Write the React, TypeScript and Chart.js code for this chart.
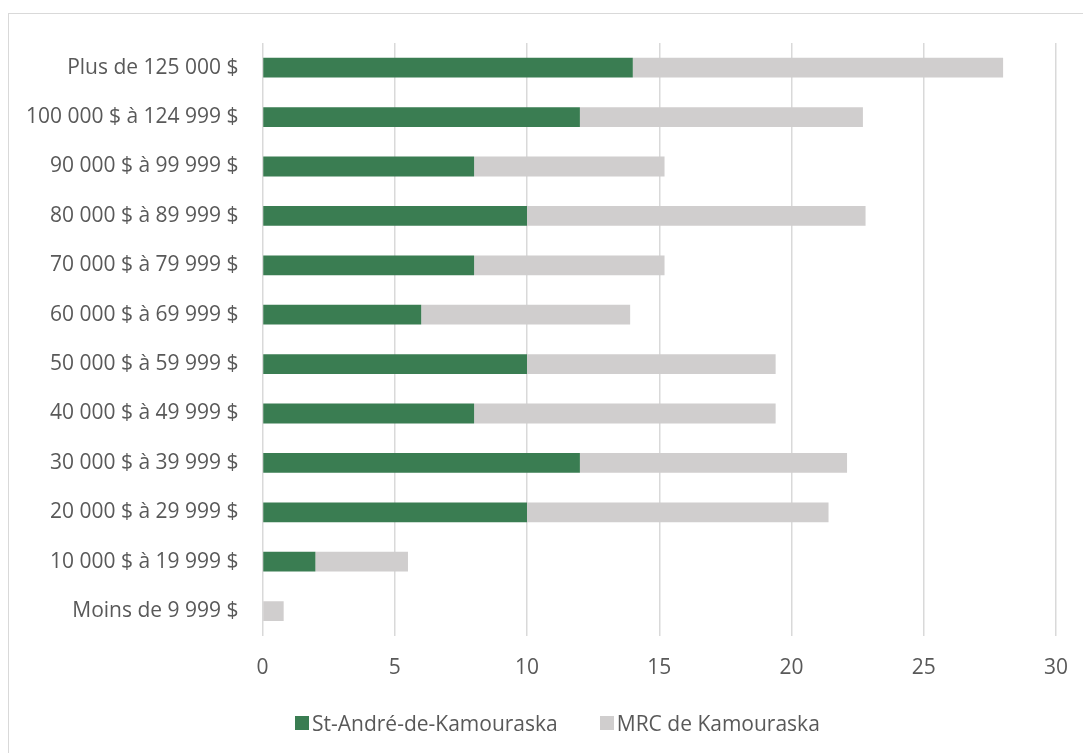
import React, { useEffect, useRef } from "react";
import { Chart, registerables } from "chart.js";

Chart.register(...registerables);

// Income brackets, listed from the top row to the bottom row
const categories: string[] = [
  "Plus de 125 000 $",
  "100 000 $ à 124 999 $",
  "90 000 $ à 99 999 $",
  "80 000 $ à 89 999 $",
  "70 000 $ à 79 999 $",
  "60 000 $ à 69 999 $",
  "50 000 $ à 59 999 $",
  "40 000 $ à 49 999 $",
  "30 000 $ à 39 999 $",
  "20 000 $ à 29 999 $",
  "10 000 $ à 19 999 $",
  "Moins de 9 999 $",
];

// Share of households (%) per bracket
const stAndreValues: number[] = [14, 12, 8, 10, 8, 6, 10, 8, 12, 10, 2, 0];
const mrcValues: number[] = [14, 10.7, 7.2, 12.8, 7.2, 7.9, 9.4, 11.4, 10.1, 11.4, 3.5, 0.8];

const seriesNames: string[] = ["St-André-de-Kamouraska", "MRC de Kamouraska"];
const seriesColors: string[] = ["#3a7d52", "#d0cece"];

const xTicks: number[] = [0, 5, 10, 15, 20, 25, 30];

const FONT = "'Open Sans', 'DejaVu Sans', sans-serif";
const TEXT = "#595959";

export default function App() {
  const canvasRef = useRef<HTMLCanvasElement | null>(null);

  useEffect(() => {
    const canvas = canvasRef.current;
    if (!canvas) return;
    let chart: Chart | null = null;
    let cancelled = false;

    const build = () => {
      if (cancelled) return;
      chart = new Chart(canvas, {
        type: "bar",
        data: {
          labels: categories,
          datasets: [
            {
              label: seriesNames[0],
              data: stAndreValues,
              backgroundColor: seriesColors[0],
              borderWidth: 0,
              categoryPercentage: 1,
              barPercentage: 0.4,
            },
            {
              label: seriesNames[1],
              data: mrcValues,
              backgroundColor: seriesColors[1],
              borderWidth: 0,
              categoryPercentage: 1,
              barPercentage: 0.4,
            },
          ],
        },
        options: {
          indexAxis: "y",
          responsive: false,
          animation: false,
          layout: {
            autoPadding: false,
            padding: { left: 2, right: 27, top: 43, bottom: 52 },
          },
          plugins: {
            legend: { display: false },
            tooltip: { enabled: false },
          },
          scales: {
            x: {
              stacked: true,
              min: xTicks[0],
              max: xTicks[xTicks.length - 1],
              afterBuildTicks: (axis: any) => {
                axis.ticks = xTicks.map((v) => ({ value: v }));
              },
              // the end labels fit inside the outer margins, so no extra side room
              afterFit: (axis: any) => {
                axis.paddingLeft = 0;
                axis.paddingRight = 0;
              },
              grid: { color: "#d9d9d9", lineWidth: 1.5, drawTicks: false },
              border: { display: false },
              ticks: {
                padding: 20,
                color: TEXT,
                font: { family: FONT, size: 21 },
              },
            },
            y: {
              stacked: true,
              grid: { display: false, drawTicks: false },
              border: { display: false },
              ticks: {
                padding: 24,
                color: TEXT,
                font: { family: FONT, size: 21 },
              },
            },
          },
        },
      });
    };

    // Make sure the text metrics use the real face before the layout is computed
    const fonts: any = (document as any).fonts;
    if (fonts && fonts.load) {
      fonts.load("21px 'Open Sans'").catch(() => undefined).then(build);
    } else {
      build();
    }

    return () => {
      cancelled = true;
      if (chart) chart.destroy();
    };
  }, []);

  return (
    <div>
      <div
        style={{
          position: "fixed",
          left: 8,
          top: 13,
          right: 0,
          bottom: 0,
          borderTop: "1.5px solid #d9d9d9",
          borderLeft: "1.5px solid #d9d9d9",
          background: "#fff",
        }}
      />
      <canvas
        ref={canvasRef}
        width={1083}
        height={753}
        style={{ position: "fixed", left: 0, top: 0, width: 1083, height: 753 }}
      />
      <div
        style={{
          position: "fixed",
          left: 295,
          top: 709,
          height: 28,
          display: "flex",
          alignItems: "center",
          gap: 42,
          fontFamily: FONT,
          fontSize: 21,
          color: TEXT,
          whiteSpace: "nowrap",
        }}
      >
        {seriesNames.map((name, i) => (
          <div key={name} style={{ display: "flex", alignItems: "center" }}>
            <span
              style={{
                display: "inline-block",
                width: 14,
                height: 14,
                background: seriesColors[i],
                marginRight: 3,
              }}
            />
            <span style={{ lineHeight: "28px" }}>{name}</span>
          </div>
        ))}
      </div>
    </div>
  );
}
